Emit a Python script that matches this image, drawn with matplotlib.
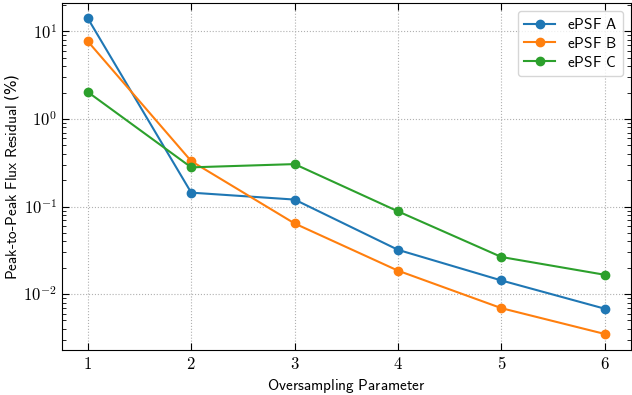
import matplotlib
matplotlib.use("Agg")
import matplotlib.pyplot as plt
from matplotlib.ticker import FuncFormatter, LogLocator, FixedLocator
import numpy as np

plt.rcParams["mathtext.fontset"] = "cm"

oversampling = [1, 2, 3, 4, 5, 6]
epsf_a = [14.1, 0.144, 0.12, 0.032, 0.0143, 0.0068]
epsf_b = [7.7, 0.33, 0.064, 0.0185, 0.0069, 0.0035]
epsf_c = [2.03, 0.28, 0.305, 0.088, 0.0265, 0.0166]
series_labels = ["ePSF A", "ePSF B", "ePSF C"]

fig = plt.figure(figsize=(6.32, 3.95), dpi=100)
ax = fig.add_axes([0.098, 0.114, 0.900, 0.878])

for vals, lab in zip([epsf_a, epsf_b, epsf_c], series_labels):
    ax.plot(oversampling, vals, marker="o", markersize=6, linewidth=1.5,
            label=r"$\mathsf{" + lab.replace(" ", r"\ ") + "}$")

ax.set_yscale("log")
ax.set_ylim(0.0023, 21)
ax.set_xlim(0.75, 6.25)

ax.xaxis.set_major_locator(FixedLocator(oversampling))
ax.xaxis.set_major_formatter(FuncFormatter(lambda v, p: r"$%d$" % round(v)))
ax.yaxis.set_major_locator(LogLocator(base=10))
ax.yaxis.set_major_formatter(FuncFormatter(lambda v, p: r"$10^{%d}$" % round(np.log10(v))))
ax.yaxis.set_minor_locator(LogLocator(base=10, subs=np.arange(2, 10)))

ax.tick_params(axis="both", which="both", direction="in", top=True, right=True,
               labelsize=12)
ax.tick_params(axis="both", which="major", length=5, width=0.8)
ax.tick_params(axis="both", which="minor", length=3, width=0.6)
ax.tick_params(axis="x", which="minor", bottom=False, top=False)

ax.grid(True, which="major", linestyle=":", color="#b0b0b0", linewidth=0.8)

ax.set_xlabel(r"$\mathsf{Oversampling\ Parameter}$", fontsize=11, labelpad=3)
ax.set_ylabel(r"$\mathsf{Peak\text{-}to\text{-}Peak\ Flux\ Residual\ }$(%)",
              fontsize=11, labelpad=2)

ax.legend(loc="upper right", fontsize=11, labelspacing=0.25,
          handletextpad=0.8, borderpad=0.4)

fig.savefig("out.png", dpi=100)
